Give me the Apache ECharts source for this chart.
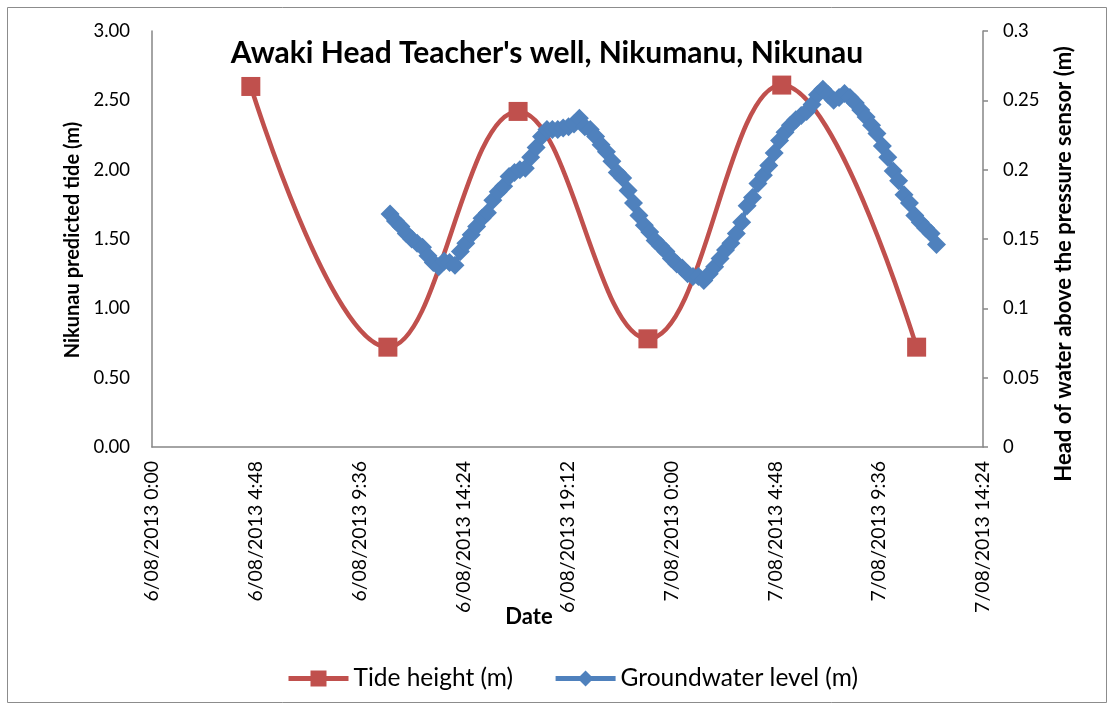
<!DOCTYPE html>
<html>
<head>
<meta charset="utf-8">
<script src="https://cdn.jsdelivr.net/npm/echarts@6/dist/echarts.min.js"></script>
<style>
  html, body { margin: 0; padding: 0; background: #ffffff; }
  #chart { width: 1114px; height: 711px; }
</style>
</head>
<body>
<div id="chart"></div>
<script>
// Chart text
const chartTitle = "Awaki Head Teacher's well, Nikumanu, Nikunau";
const leftAxisName = 'Nikunau predicted tide (m)';
const rightAxisName = 'Head of water above the pressure sensor (m)';
const xAxisName = 'Date';

// Date axis tick labels (every 4 h 48 min from 6/08/2013 0:00)
const xTickLabels = [
  '6/08/2013 0:00', '6/08/2013 4:48', '6/08/2013 9:36', '6/08/2013 14:24',
  '6/08/2013 19:12', '7/08/2013 0:00', '7/08/2013 4:48', '7/08/2013 9:36',
  '7/08/2013 14:24'
];
const xTickStepHours = 4.8;

// Predicted tide: high / low water times and heights
const tideTimes = [
  '6/08/2013 4:34', '6/08/2013 10:54', '6/08/2013 16:55',
  '6/08/2013 22:55', '7/08/2013 5:06', '7/08/2013 11:20'
];
const tideHeights = [2.60, 0.72, 2.42, 0.78, 2.61, 0.72];

// Groundwater logger: readings every 15 minutes from 6/08/2013 11:00
const gwStart = '6/08/2013 11:00';
const gwStepMinutes = 15;
const gwLevels = [
  0.168, 0.163, 0.159, 0.154, 0.150, 0.147, 0.144, 0.138, 0.133, 0.130,
  0.134, 0.133, 0.131, 0.141, 0.147, 0.153, 0.159, 0.165, 0.169, 0.178,
  0.184, 0.188, 0.195, 0.198, 0.200, 0.201, 0.209, 0.216, 0.224, 0.229,
  0.229, 0.229, 0.230, 0.231, 0.233, 0.237, 0.231, 0.229, 0.224, 0.218,
  0.213, 0.206, 0.198, 0.194, 0.185, 0.176, 0.167, 0.160, 0.155, 0.149,
  0.145, 0.141, 0.136, 0.132, 0.129, 0.125, 0.123, 0.123, 0.120, 0.125,
  0.130, 0.136, 0.142, 0.147, 0.154, 0.162, 0.174, 0.180, 0.190, 0.196,
  0.203, 0.212, 0.221, 0.227, 0.232, 0.236, 0.239, 0.242, 0.247, 0.254,
  0.258, 0.254, 0.250, 0.252, 0.255, 0.252, 0.248, 0.243, 0.238, 0.232,
  0.226, 0.217, 0.209, 0.199, 0.192, 0.182, 0.176, 0.167, 0.162, 0.158,
  0.154, 0.146
];

// Hours elapsed since 6/08/2013 0:00 for a "d/mm/yyyy h:mm" stamp
function hoursFromOrigin(stamp) {
  const [datePart, timePart] = stamp.split(' ');
  const day = parseInt(datePart.split('/')[0], 10);
  const [h, m] = timePart.split(':').map(Number);
  return (day - 6) * 24 + h + m / 60;
}

const tideData = tideTimes.map((t, i) => [hoursFromOrigin(t), tideHeights[i]]);
const gwStartHours = hoursFromOrigin(gwStart);
const gwData = gwLevels.map((v, i) => [gwStartHours + i * gwStepMinutes / 60, v]);

const RED = '#C0504D';
const BLUE = '#4F81BD';
const AXIS = '#868686';
const FONT = 'Lato, "Open Sans", sans-serif';

const chart = echarts.init(document.getElementById('chart'), null, { renderer: 'canvas' });

chart.setOption({
  animation: false,
  backgroundColor: '#ffffff',
  grid: { left: 152, right: 131, top: 31, bottom: 264, containLabel: false },
  xAxis: {
    type: 'value',
    min: 0,
    max: xTickStepHours * (xTickLabels.length - 1),
    interval: xTickStepHours,
    axisLine: { show: true, lineStyle: { color: AXIS, width: 1.5 } },
    axisTick: { show: false },
    splitLine: { show: false },
    axisLabel: {
      rotate: 90,
      margin: 14,
      color: '#000',
      fontFamily: FONT,
      fontSize: 19.5,
      showMinLabel: true,
      showMaxLabel: true,
      formatter: v => xTickLabels[Math.round(v / xTickStepHours)] || ''
    }
  },
  yAxis: [
    {
      type: 'value',
      min: 0, max: 3, interval: 0.5,
      position: 'left',
      axisLine: { show: true, lineStyle: { color: AXIS, width: 1.5 } },
      axisTick: { show: false },
      splitLine: { show: false },
      axisLabel: {
        margin: 22, color: '#000', fontFamily: FONT, fontSize: 18.5,
        formatter: v => v.toFixed(2)
      }
    },
    {
      type: 'value',
      min: 0, max: 0.3, interval: 0.05,
      position: 'right',
      axisLine: { show: true, lineStyle: { color: AXIS, width: 1.5 } },
      axisTick: { show: true, length: 5, lineStyle: { color: AXIS, width: 1.5 } },
      splitLine: { show: false },
      axisLabel: {
        margin: 20, color: '#000', fontFamily: FONT, fontSize: 18.5,
        formatter: v => String(Math.round(v * 100) / 100)
      }
    }
  ],
  legend: {
    left: 281,
    top: 661,
    itemWidth: 60,
    itemHeight: 20,
    itemGap: 40,
    textStyle: { color: '#000', fontFamily: FONT, fontSize: 24.5 },
    data: [
      { name: 'Tide height (m)', lineStyle: { width: 5 } },
      { name: 'Groundwater level (m)', lineStyle: { width: 5 } }
    ]
  },
  graphic: [
    {
      type: 'rect', silent: true, z: -10,
      shape: { x: 7.5, y: 7.5, width: 1099, height: 695 },
      style: { fill: 'none', stroke: '#8c8c8c', lineWidth: 1 }
    },
    {
      type: 'text', x: 547, y: 53,
      style: { text: chartTitle, fill: '#000', font: 'bold 30px ' + FONT, align: 'center', verticalAlign: 'middle' }
    },
    {
      type: 'text', x: 73, y: 240, rotation: Math.PI / 2,
      style: { text: leftAxisName, fill: '#000', font: 'bold 20px ' + FONT, align: 'center', verticalAlign: 'middle' }
    },
    {
      type: 'text', x: 1064, y: 264, rotation: Math.PI / 2,
      style: { text: rightAxisName, fill: '#000', font: 'bold 22px ' + FONT, align: 'center', verticalAlign: 'middle' }
    },
    {
      type: 'text', x: 529, y: 617,
      style: { text: xAxisName, fill: '#000', font: 'bold 22px ' + FONT, align: 'center', verticalAlign: 'middle' }
    }
  ],
  series: [
    {
      name: 'Tide height (m)',
      type: 'line',
      yAxisIndex: 0,
      data: tideData,
      smooth: 0.4,
      symbol: 'rect',
      symbolSize: 19,
      showAllSymbol: true,
      color: RED,
      lineStyle: { color: RED, width: 4.5 },
      itemStyle: { color: RED }
    },
    {
      name: 'Groundwater level (m)',
      type: 'line',
      yAxisIndex: 1,
      data: gwData,
      symbol: 'diamond',
      symbolSize: 19,
      showAllSymbol: true,
      color: BLUE,
      lineStyle: { color: BLUE, width: 4.5 },
      itemStyle: { color: BLUE }
    }
  ]
});
</script>
</body>
</html>
